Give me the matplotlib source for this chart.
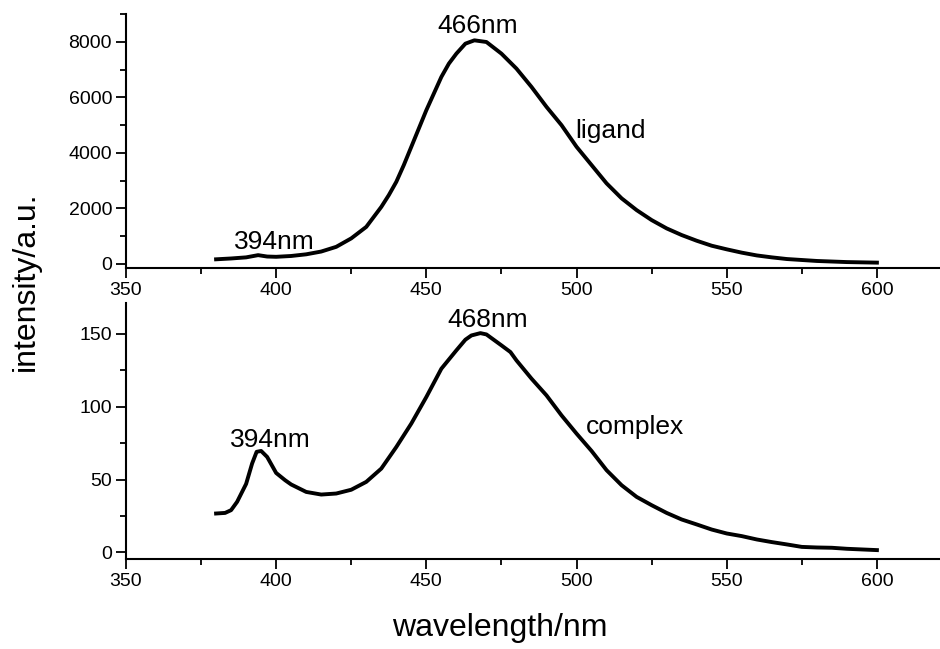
import matplotlib
matplotlib.use("Agg")
import matplotlib.pyplot as plt
from matplotlib.ticker import MultipleLocator

plt.rcParams['font.family'] = ['Liberation Sans', 'DejaVu Sans']

# ligand emission spectrum
wl_ligand = [380, 385, 390, 394, 397, 400, 405, 410, 415, 420, 425, 430, 435, 437.5, 440,
             442.5, 445, 447.5, 450, 452.5, 455, 457.5, 460, 463, 466, 470, 475, 480, 485,
             490, 495, 500, 505, 510, 515, 520, 525, 530, 535, 540, 545, 550, 555, 560,
             565, 570, 575, 580, 590, 600]
int_ligand = [160, 190, 230, 310, 260, 250, 280, 340, 440, 610, 915, 1330, 2050, 2475, 2955,
              3560, 4220, 4880, 5540, 6140, 6740, 7220, 7580, 7940, 8060, 8000, 7580, 7040, 6380,
              5660, 5000, 4220, 3560, 2900, 2360, 1935, 1575, 1275, 1035, 830, 650, 520, 400, 300,
              230, 170, 135, 100, 60, 40]

# complex emission spectrum
wl_complex = [380, 383, 385, 387, 390, 392, 393.5, 395, 397, 400, 403, 405, 410, 415,
              420, 425, 430, 435, 440, 445, 450, 455, 460, 463, 465, 468, 470, 475,
              478, 480, 485, 490, 495, 500, 505, 510, 515, 520, 525, 530, 535, 540,
              545, 550, 555, 560, 565, 570, 575, 580, 585, 590, 600]
int_complex = [26.7, 27.1, 29, 34.7, 47, 61, 69, 69.6, 65.5, 54.5, 49.5, 46.6, 41.5, 39.7,
               40.4, 43, 48.4, 57.5, 72.3, 88.4, 106.6, 126, 138.6, 145.9, 148.8, 150.4, 149.5, 142,
               137.4, 131.7, 119.2, 107.7, 94, 81.5, 69.6, 56.4, 46.1, 38.1, 32.4, 27.1, 22.6, 19.2,
               15.7, 13, 11.2, 8.9, 7.1, 5.5, 3.8, 3.4, 3.2, 2.5, 1.6]

fig = plt.figure(figsize=(9.4, 6.49), dpi=100)
ax1 = fig.add_axes([0.134, 0.587, 0.866, 0.391])
ax2 = fig.add_axes([0.134, 0.138, 0.866, 0.395])

for ax in (ax1, ax2):
    for s in ('top', 'right'):
        ax.spines[s].set_visible(False)
    for s in ('left', 'bottom'):
        ax.spines[s].set_linewidth(1.5)
    ax.set_xlim(350, 621)
    ax.xaxis.set_major_locator(MultipleLocator(50))
    ax.xaxis.set_minor_locator(MultipleLocator(25))
    ax.tick_params(which='major', direction='out', length=7, width=1.3, labelsize=14, pad=3)
    ax.tick_params(which='minor', direction='out', length=4, width=1.3)

ax1.plot(wl_ligand, int_ligand, color='black', lw=2.8)
ax1.set_ylim(-155, 9000)
ax1.yaxis.set_major_locator(MultipleLocator(2000))
ax1.yaxis.set_minor_locator(MultipleLocator(1000))
ax1.text(467, 8320, '466nm', fontsize=19, ha='center', va='baseline')
ax1.text(399.5, 530, '394nm', fontsize=19, ha='center', va='baseline')
ax1.text(499.5, 4530, 'ligand', fontsize=19, ha='left', va='baseline')

ax2.plot(wl_complex, int_complex, color='black', lw=2.8)
ax2.set_ylim(-4.8, 171)
ax2.yaxis.set_major_locator(MultipleLocator(50))
ax2.yaxis.set_minor_locator(MultipleLocator(25))
ax2.text(470.5, 154.5, '468nm', fontsize=19, ha='center', va='baseline')
ax2.text(398, 72, '394nm', fontsize=19, ha='center', va='baseline')
ax2.text(503, 81, 'complex', fontsize=19, ha='left', va='baseline')

fig.text(0.027, 0.566, 'intensity/a.u.', rotation=90, fontsize=23, ha='center', va='center')
fig.text(0.532, 0.032, 'wavelength/nm', fontsize=23, ha='center', va='center')

fig.savefig('out.png', dpi=100)
